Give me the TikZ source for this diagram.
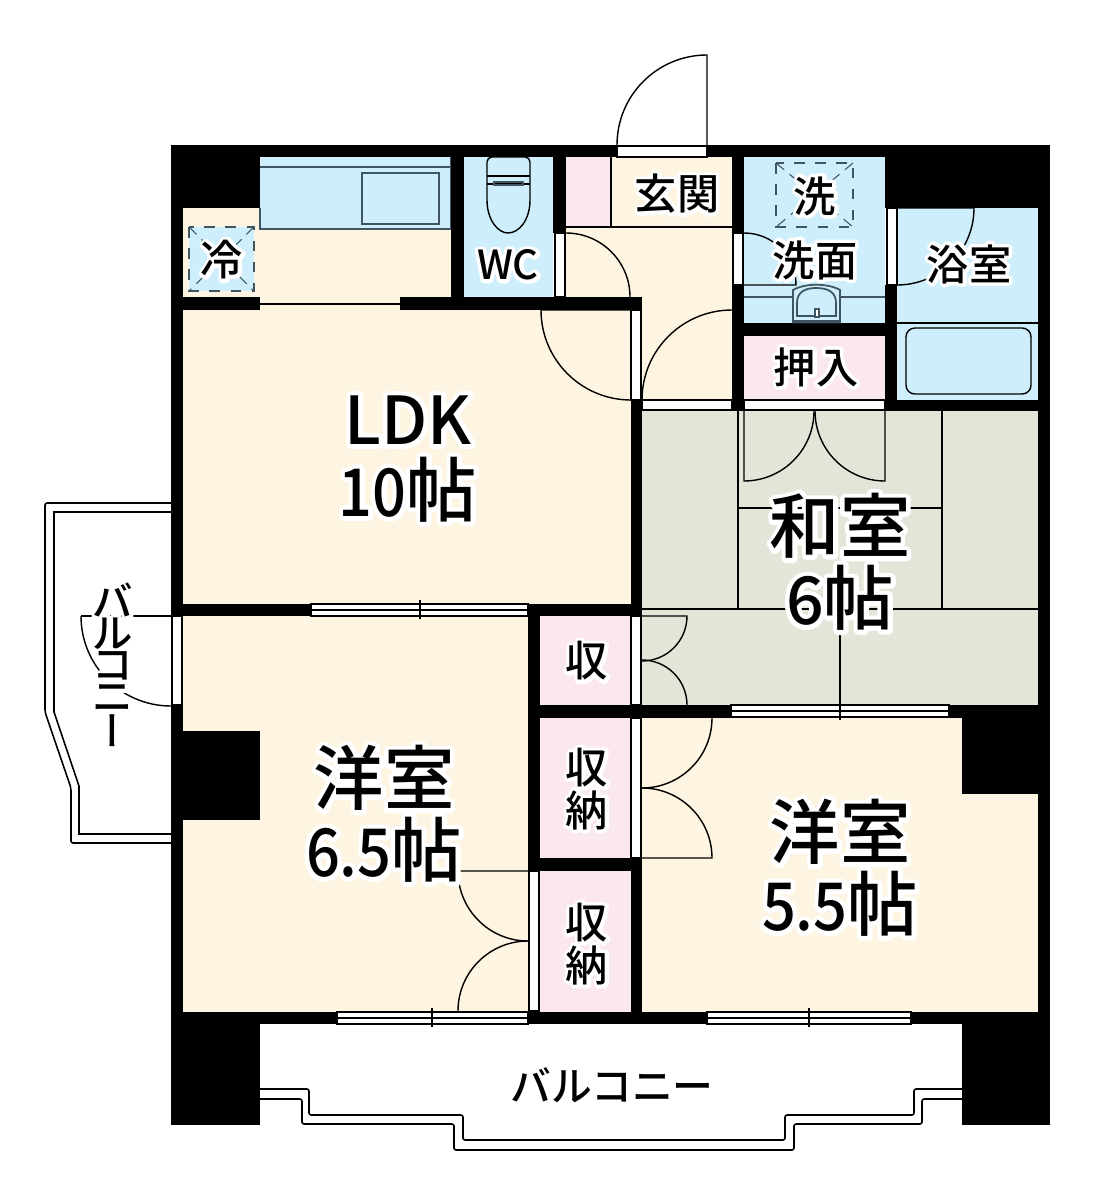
\documentclass[tikz,border=0pt]{standalone}
\usepackage{fontspec}
\setmainfont{Noto Sans CJK JP}[UprightFont=* Medium]
\newfontfamily\vertfont[RawFeature=+vert]{Noto Sans CJK JP}[UprightFont=* Medium]
\newfontfamily\numfont[FakeStretch=0.9]{Noto Sans CJK JP}[UprightFont=* Medium]
% white outline under a text, one stroked copy
\newcommand{\ct}[2][2.0]{\leavevmode\rlap{\special{pdf:code 1 Tr #1 w 1 1 1 RG 1 j 1 J}#2\special{pdf:code 0 Tr 0 0 0 RG 0.4 w}}#2}
\newcommand{\nm}[1]{{\fontsize{18.8}{20}\selectfont #1}}
\newcommand{\dg}[1]{{\numfont\fontsize{18.8}{20}\selectfont #1}}
\definecolor{roombeige}{HTML}{FDF4E1}
\definecolor{wetblue}{HTML}{CFEEFC}
\definecolor{closetpink}{HTML}{FBE7F0}
\definecolor{tatami}{HTML}{E1E6D8}
\definecolor{fixture}{HTML}{3F5560}
\tikzset{
thin line/.style={draw=black, line width=0.4pt},
frame/.style={fill=white, draw=black, line width=0.35pt},
fix/.style={draw=fixture, line width=0.5pt},
rail/.style={draw=black, line width=0.45pt, rounded corners=0.6pt},
big label/.style={align=center, inner sep=0pt, font=\fontsize{20}{20.4}\selectfont},
small label/.style={align=center, inner sep=0pt, font=\fontsize{12}{10.6}\selectfont},
}
\begin{document}
\begin{tikzpicture}[x=0.01cm, y=-0.01cm]
\useasboundingbox (0,0) rectangle (1094,1200);

% rooms
\foreach \xa/\ya/\xb/\yb/\col in {
  183/208/451/310/roombeige, 183/304/631/604/roombeige, 183/616/528/1012/roombeige,
  642/718/1038/1012/roombeige, 566/157/733/400/roombeige, 631/310/642/400/roombeige,
  566/157/611/227/closetpink, 744/336/885/400/closetpink, 540/616/631/705/closetpink,
  540/718/631/858/closetpink, 540/871/631/1012/closetpink,
  260/157/451/229/wetblue, 189/227/254/291/wetblue, 464/157/553/297/wetblue, 744/157/885/323/wetblue, 897/208/1038/400/wetblue,
  642/411/1038/705/tatami}
  \fill[\col] (\xa,\ya) rectangle (\xb,\yb);

% kitchen
\draw[fix] (260,208) -- (260,229) -- (451,229) -- (451,157) (260,167) -- (451,167);
\draw[fix, line width=0.7pt] (362,173) rectangle (439,224);

% walls
\foreach \xa/\ya/\xb/\yb in {
  171/145/1050/157, 171/145/183/1125, 1038/145/1050/1125,
  171/145/260/208, 885/145/1050/208, 171/731/260/820,
  962/705/1050/794, 171/1012/1050/1024, 171/1012/260/1125, 962/1012/1050/1125,
  183/297/260/310, 400/297/642/310, 451/145/464/310, 553/145/566/233,
  732/145/744/411, 744/323/885/336, 885/285/897/411, 885/400/1050/411,
  631/400/642/1024, 171/604/642/616, 528/604/540/871, 528/858/642/871,
  540/705/962/718}
  \fill[black] (\xa,\ya) rectangle (\xb,\yb);

% doors in the walls
\foreach \xa/\ya/\xb/\yb in {
  617/146/707/157, 555/233/565/297, 631/310/641/400, 642/400/732/410,
  744/400/885/410, 733/233/743/285, 887/208/897/285, 172/616/182/705,
  631/616/641/705, 631/718/641/858, 529/871/539/1011}
  \draw[frame] (\xa,\ya) rectangle (\xb,\yb);

% windows
\foreach \xa/\xb/\xc/\ya in {311/420/528/604, 731/840/949/705, 337/432/528/1012, 707/809/911/1012} {
  \draw[frame] (\xa,\ya) rectangle (\xc,\ya+12);
  \draw[thin line] (\xa,\ya+6) -- (\xc,\ya+6);
  \draw[thin line] (\xb,\ya-4) -- (\xb,\ya+15);
}

% tatami
\draw[thin line] (738,411) -- (738,609) (942,411) -- (942,609) (642,609) -- (1038,609);
\draw[thin line] (738,508) -- (942,508) (840,609) -- (840,705);

% swings
\draw[thin line] (707,145) -- (707,55) arc[start angle=-90, end angle=-180, radius=90] -- (617,145);
\draw[thin line] (566,233) arc[start angle=-90, end angle=0, radius=64];
\draw[thin line] (541,310) arc[start angle=180, end angle=90, radius=90] -- (631,310) -- (541,310);
\draw[thin line] (642,400) arc[start angle=180, end angle=270, radius=90] -- (732,310);
\draw[thin line] (744,233) arc[start angle=-90, end angle=0, radius=52] -- (744,285);
\draw[thin line] (897,285) arc[start angle=90, end angle=0, radius=77] -- (897,208);
\draw[thin line] (744,411) -- (744,481) arc[start angle=90, end angle=0, radius=70];
\draw[thin line] (885,411) -- (885,481) arc[start angle=90, end angle=180, radius=70];
\draw[thin line] (642,616) -- (687,616) arc[start angle=0, end angle=90, radius=45];
\draw[thin line] (642,660) arc[start angle=-90, end angle=0, radius=45];
\draw[thin line] (712,718) arc[start angle=0, end angle=90, radius=70];
\draw[thin line] (642,788) arc[start angle=-90, end angle=0, radius=70] -- (642,858);
\draw[thin line] (528,871) -- (458,871) arc[start angle=180, end angle=90, radius=70];
\draw[thin line] (528,941) arc[start angle=-90, end angle=-180, radius=70];
\draw[thin line] (81,616) -- (172,616);
\draw[thin line] (81,616) arc[start angle=180, end angle=90, radius=90];
\draw[thin line] (260,304) -- (400,304);
\draw[thin line] (611,157) -- (611,227) (566,227) -- (733,227);

% fridge and washer places
\draw[fix, dashed, line width=0.7pt] (189,227) rectangle (254,291);
\draw[fix, densely dashed, line width=0.3pt] (189,227) -- (254,291) (254,227) -- (189,291);
\draw[fix, dashed, line width=0.7pt] (776,163) rectangle (853,227);
\draw[fix, densely dashed, line width=0.3pt] (776,163) -- (853,227) (853,163) -- (776,227);

% wash and bath
\draw[fix] (744,297) -- (793,297) (840,297) -- (885,297);
\draw[fix, fill=wetblue] (793,323) -- (793,290) .. controls (805,283) and (828,283) .. (840,290) -- (840,323);
\draw[fix] (797,316) -- (797,303) .. controls (797,292) and (805,288) .. (816,288) .. controls (828,288) and (836,292) .. (836,303) -- (836,316) -- cycle;
\draw[fix, fill=white] (815,309) rectangle (819,317);
\fill[fixture] (793,320) rectangle (840,323);
\draw[thin line] (897,323) -- (1038,323);
\draw[thin line, rounded corners=2.5pt] (906,328) rectangle (1031,394);

% toilet
\draw[thin line, rounded corners=1.4pt] (487,176) -- (487,157) -- (530,157) -- (530,176);
\draw[thin line] (487,176) -- (530,176) (487,184) -- (530,184);
\draw[thin line] (487,176) -- (487,200) .. controls (487,220) and (498,233) .. (508,233) .. controls (519,233) and (530,220) .. (530,200) -- (530,176);
\draw[fix] (494,182) rectangle (523,185);

% balcony
\draw[rail] (171,503) -- (45,503) -- (45,712) -- (71,788) -- (71,843) -- (171,843);
\draw[rail, rounded corners=0pt] (171,512) -- (54,512) -- (54,712) -- (79,786) -- (79,834) -- (171,834);
\draw[rail] (260,1089) -- (309,1089) -- (309,1115) -- (463,1115) -- (463,1140) -- (785,1140) -- (785,1115) -- (914,1115) -- (914,1089) -- (962,1089);
\draw[rail] (260,1099) -- (302,1099) -- (302,1124) -- (454,1124) -- (454,1150) -- (794,1150) -- (794,1124) -- (922,1124) -- (922,1099) -- (962,1099);

% labels
\node[big label] (ldk) at (408,459) {\ct[2.6]{\nm{LDK}}\\\ct[2.6]{\dg{10}帖}};
\node[big label] (washitsu) at (840,562) {\ct[2.6]{和室}\\\ct[2.6]{\nm{6}帖}};
\node[big label] (west) at (384,814) {\ct[2.6]{洋室}\\\ct[2.6]{\dg{6.5}帖}};
\node[big label] (east) at (840,868) {\ct[2.6]{洋室}\\\ct[2.6]{\dg{5.5}帖}};
\node[small label] (entry) at (677,194) {\ct{玄関}};
\node[small label, font=\fontsize{11.4}{10.6}\selectfont] (wc) at (508,265) {\ct{WC}};
\node[small label] (fridge) at (222,260) {\ct{冷}};
\node[small label] (washer) at (815,196) {\ct{洗}};
\node[small label] (washroom) at (815,260) {\ct{洗面}};
\node[small label] (bath) at (969,264) {\ct{浴室}};
\node[small label] (oshiire) at (816,367) {\ct{押入}};
\node[small label] (shu) at (587,661) {\ct{収}};
\node[small label] (closeta) at (587,789) {\ct{収}\\\ct{納}};
\node[small label] (closetb) at (587,944) {\ct{収}\\\ct{納}};
\node[small label, font=\fontsize{11.6}{10}\selectfont] (balconyb) at (612,1085) {\ct{バルコニー}};
\node[small label, font=\fontsize{11.5}{9}\selectfont] (balconyl) at (113,665) {\ct{バ}\\\ct{ル}\\\ct{コ}\\\ct{ニ}\\\ct{\vertfont ー}};
\end{tikzpicture}
\end{document}
